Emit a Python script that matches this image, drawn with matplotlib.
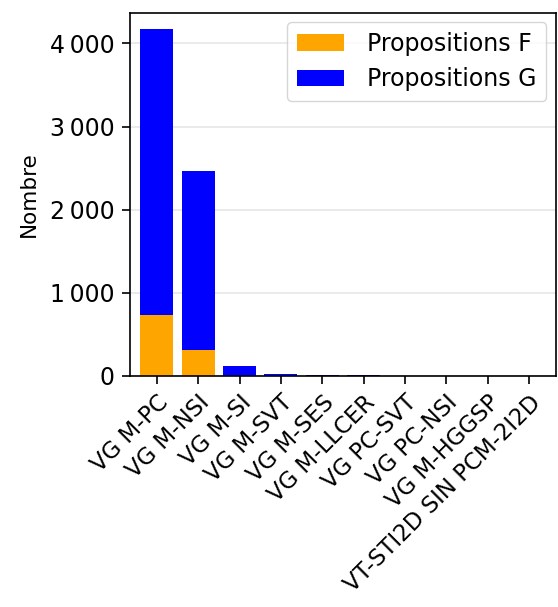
import numpy as np
import matplotlib
matplotlib.use('Agg')
import matplotlib.pyplot as plt
from matplotlib.ticker import FuncFormatter

categories = ['VG M-PC', 'VG M-NSI', 'VG M-SI', 'VG M-SVT', 'VG M-SES',
              'VG M-LLCER', 'VG PC-SVT', 'VG PC-NSI', 'VG M-HGGSP',
              'VT-STI2D SIN PCM-2I2D']
prop_f = [730, 305, 0, 0, 0, 0, 0, 0, 0, 0]
prop_g = [3440, 2155, 115, 15, 5, 3, 2, 2, 1, 1]

fig = plt.figure(figsize=(5.58, 6.07), dpi=100)
ax = fig.add_axes([0.233, 0.381, 0.763, 0.598])

x = np.arange(len(categories))
ax.bar(x, prop_f, width=0.8, color='orange', label='Propositions F')
ax.bar(x, prop_g, width=0.8, bottom=prop_f, color='#0000ff', label='Propositions G')

ax.set_xlim(-0.65, 9.65)
ax.set_ylim(0, 4370)
ax.set_yticks([0, 1000, 2000, 3000, 4000])
ax.yaxis.set_major_formatter(FuncFormatter(lambda v, p: f'{int(v):,}'.replace(',', '\u2009')))
ax.tick_params(length=6, width=1.2, pad=5)
ax.tick_params(axis='y', labelsize=17)
ax.set_xticks(x)
ax.set_xticklabels(categories, rotation=45, ha='right', rotation_mode='anchor', fontsize=16.5)
ax.set_ylabel('Nombre', fontsize=15.5, labelpad=8)
for sp in ax.spines.values():
    sp.set_linewidth(1.2)
ax.grid(axis='y', color='#e8e8e8', linewidth=1.3)
ax.set_axisbelow(True)
ax.legend(loc='upper right', fontsize=17, borderaxespad=0.4, handletextpad=1.0)

fig.savefig('out.png', dpi=100)
